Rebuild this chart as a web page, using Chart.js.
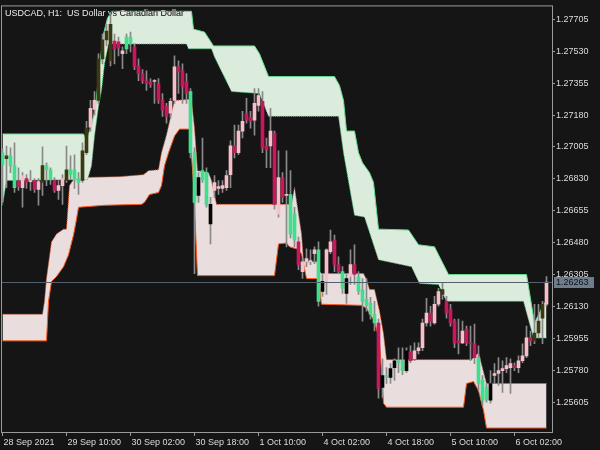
<!DOCTYPE html>
<html>
<head>
<meta charset="utf-8">
<script src="https://cdn.jsdelivr.net/npm/chart.js@4.4.1/dist/chart.umd.min.js"></script>
<style>
  html, body { margin: 0; padding: 0; background: #151515; }
  canvas { display: block; }
</style>
</head>
<body>
<canvas id="chart" width="600" height="450"></canvas>
<script>
const title = 'USDCAD, H1:  US Dollar vs Canadian Dollar'
const xTickLabels = ['28 Sep 2021', '29 Sep 10:00', '30 Sep 02:00', '30 Sep 18:00', '1 Oct 10:00', '4 Oct 02:00', '4 Oct 18:00', '5 Oct 10:00', '6 Oct 02:00']
const yTickLabels = ['1.25605', '1.25780', '1.25955', '1.26130', '1.26305', '1.26480', '1.26655', '1.26830', '1.27005', '1.27180', '1.27355', '1.27530', '1.27705']
const lastPrice = 1.26263

// hourly candles, one entry per bar
const opens = [1.26973, 1.26940, 1.26956, 1.26902, 1.26821, 1.26782, 1.26831, 1.26815, 1.26821, 1.26772,
  1.26810, 1.26902, 1.26880, 1.26821, 1.26766, 1.26793, 1.26821, 1.26880, 1.26880, 1.26831,
  1.26821, 1.26973, 1.27114, 1.27211, 1.27260, 1.27488, 1.27592, 1.27478, 1.27586, 1.27581,
  1.27516, 1.27608, 1.27608, 1.27554, 1.27450, 1.27407, 1.27369, 1.27358, 1.27364, 1.27353,
  1.27260, 1.27228, 1.27190, 1.27260, 1.27445, 1.27423, 1.27364, 1.27309, 1.26973, 1.26739,
  1.26875, 1.26864, 1.26582, 1.26766, 1.26777, 1.26777, 1.26782, 1.26853, 1.27011, 1.26973,
  1.27092, 1.27190, 1.27168, 1.27152, 1.27233, 1.27255, 1.27011, 1.27011, 1.27081, 1.26636,
  1.26837, 1.26739, 1.26744, 1.26636, 1.26484, 1.26321, 1.26375, 1.26375, 1.26419, 1.26440,
  1.26212, 1.26267, 1.26430, 1.26495, 1.26359, 1.26321, 1.26201, 1.26294, 1.26359, 1.26294,
  1.26223, 1.26169, 1.26147, 1.26087, 1.26039, 1.25686, 1.25751, 1.25740, 1.25794, 1.25832,
  1.25832, 1.25778, 1.25881, 1.25843, 1.25887, 1.25903, 1.26039, 1.26093, 1.26039, 1.26142,
  1.26196, 1.26158, 1.26115, 1.26049, 1.25941, 1.25930, 1.26006, 1.25930, 1.25925, 1.25849,
  1.25724, 1.25686, 1.25615, 1.25751, 1.25762, 1.25778, 1.25789, 1.25794, 1.25805, 1.25794,
  1.25832, 1.25859, 1.25957, 1.25941, 1.25984, 1.26066, 1.26142]
const highs = [1.26994, 1.27010, 1.27000, 1.27027, 1.26891, 1.26864, 1.26853, 1.26875, 1.26831, 1.26831,
  1.27005, 1.26918, 1.26891, 1.26837, 1.26821, 1.26853, 1.27010, 1.26956, 1.26962, 1.26864,
  1.27027, 1.27146, 1.27260, 1.27309, 1.27516, 1.27624, 1.27678, 1.27733, 1.27624, 1.27608,
  1.27554, 1.27624, 1.27635, 1.27570, 1.27488, 1.27429, 1.27423, 1.27380, 1.27374, 1.27380,
  1.27298, 1.27244, 1.27271, 1.27505, 1.27478, 1.27461, 1.27407, 1.27325, 1.27000, 1.26864,
  1.27054, 1.26891, 1.26728, 1.26848, 1.26821, 1.26821, 1.26875, 1.27038, 1.27125, 1.27125,
  1.27201, 1.27271, 1.27201, 1.27325, 1.27325, 1.27309, 1.27054, 1.27217, 1.27092, 1.26983,
  1.26864, 1.26983, 1.26875, 1.26674, 1.26511, 1.26397, 1.26446, 1.26440, 1.26457, 1.26484,
  1.26305, 1.26446, 1.26549, 1.26522, 1.26402, 1.26348, 1.26305, 1.26440, 1.26468, 1.26321,
  1.26283, 1.26283, 1.26180, 1.26158, 1.26060, 1.25843, 1.25794, 1.25816, 1.25843, 1.25903,
  1.25903, 1.25903, 1.25914, 1.25930, 1.25930, 1.26060, 1.26174, 1.26131, 1.26185, 1.26229,
  1.26256, 1.26185, 1.26142, 1.26060, 1.26060, 1.26049, 1.26022, 1.26022, 1.26033, 1.25914,
  1.25751, 1.25707, 1.25778, 1.25816, 1.25849, 1.25832, 1.25849, 1.25843, 1.25821, 1.25859,
  1.25925, 1.26022, 1.25995, 1.26142, 1.26142, 1.26158, 1.26294]
const lows = [1.26701, 1.26782, 1.26864, 1.26755, 1.26766, 1.26674, 1.26777, 1.26766, 1.26755, 1.26685,
  1.26739, 1.26793, 1.26799, 1.26755, 1.26717, 1.26690, 1.26810, 1.26826, 1.26777, 1.26744,
  1.26810, 1.26962, 1.27092, 1.27179, 1.27244, 1.27461, 1.27559, 1.27450, 1.27461, 1.27505,
  1.27434, 1.27516, 1.27526, 1.27429, 1.27369, 1.27353, 1.27315, 1.27331, 1.27244, 1.27244,
  1.27173, 1.27135, 1.27163, 1.27244, 1.27298, 1.27244, 1.27244, 1.26945, 1.26310, 1.26701,
  1.26810, 1.26674, 1.26473, 1.26728, 1.26744, 1.26755, 1.26766, 1.26782, 1.26945, 1.26962,
  1.27054, 1.27135, 1.27108, 1.27070, 1.27201, 1.26973, 1.26891, 1.26891, 1.26663, 1.26620,
  1.26701, 1.26457, 1.26506, 1.26457, 1.26332, 1.26283, 1.26348, 1.26359, 1.26364, 1.26131,
  1.26185, 1.26196, 1.26419, 1.26321, 1.26310, 1.26201, 1.26147, 1.26250, 1.26250, 1.26196,
  1.26049, 1.26104, 1.26060, 1.25995, 1.25626, 1.25631, 1.25707, 1.25707, 1.25724, 1.25767,
  1.25756, 1.25767, 1.25821, 1.25832, 1.25870, 1.25887, 1.26022, 1.26022, 1.26033, 1.26131,
  1.26169, 1.26066, 1.26022, 1.25903, 1.25870, 1.25925, 1.25914, 1.25832, 1.25816, 1.25669,
  1.25588, 1.25604, 1.25599, 1.25707, 1.25696, 1.25658, 1.25767, 1.25653, 1.25778, 1.25767,
  1.25821, 1.25849, 1.25914, 1.25925, 1.25957, 1.25925, 1.26131]
const closes = [1.26907, 1.26956, 1.26902, 1.26782, 1.26788, 1.26848, 1.26810, 1.26821, 1.26772, 1.26815,
  1.26902, 1.26880, 1.26826, 1.26766, 1.26793, 1.26831, 1.26880, 1.26853, 1.26826, 1.26810,
  1.26983, 1.27108, 1.27217, 1.27260, 1.27488, 1.27592, 1.27640, 1.27678, 1.27543, 1.27548,
  1.27532, 1.27543, 1.27570, 1.27445, 1.27407, 1.27369, 1.27353, 1.27347, 1.27369, 1.27260,
  1.27206, 1.27173, 1.27255, 1.27445, 1.27418, 1.27336, 1.27298, 1.26973, 1.26701, 1.26837,
  1.26826, 1.26690, 1.26690, 1.26810, 1.26788, 1.26793, 1.26848, 1.27011, 1.26973, 1.27092,
  1.27146, 1.27152, 1.27146, 1.27244, 1.27287, 1.27000, 1.26989, 1.27092, 1.26690, 1.26837,
  1.26728, 1.26744, 1.26527, 1.26495, 1.26359, 1.26375, 1.26392, 1.26381, 1.26440, 1.26158,
  1.26267, 1.26440, 1.26484, 1.26359, 1.26321, 1.26229, 1.26283, 1.26359, 1.26305, 1.26212,
  1.26158, 1.26136, 1.26087, 1.26039, 1.25680, 1.25751, 1.25740, 1.25789, 1.25832, 1.25821,
  1.25778, 1.25887, 1.25832, 1.25887, 1.25903, 1.26039, 1.26093, 1.26049, 1.26142, 1.26212,
  1.26223, 1.26093, 1.26039, 1.25930, 1.25930, 1.25995, 1.25930, 1.25925, 1.25849, 1.25707,
  1.25615, 1.25615, 1.25707, 1.25762, 1.25778, 1.25789, 1.25805, 1.25816, 1.25794, 1.25832,
  1.25859, 1.25957, 1.25941, 1.25984, 1.26049, 1.26142, 1.26263]

// band edges as [bar, price] vertices
const greenUpper = [[0, 1.27076], [20.25, 1.27076], [21, 1.27043], [22.25, 1.27125], [23.25, 1.27222], [24.25, 1.27450],
  [25.25, 1.27624], [26.25, 1.27711], [27.25, 1.27749], [47.25, 1.27749], [47.75, 1.27651], [50.5, 1.27635],
  [52.75, 1.27559], [63, 1.27559], [64.25, 1.27516], [66.5, 1.27391], [83, 1.27391], [84.25, 1.27342],
  [85.25, 1.27260], [86, 1.27092], [88, 1.27092], [89, 1.26973], [90, 1.26918], [91.75, 1.26864],
  [92.75, 1.26810], [94, 1.26554], [101.5, 1.26549], [104, 1.26468], [108, 1.26457], [109, 1.26413],
  [111.5, 1.26305], [131, 1.26305], [133, 1.26039], [135.25, 1.26142], [136, 1.26158]]
const greenLower = [[0, 1.26685], [1, 1.26821], [21.25, 1.26826], [22.25, 1.26902], [23, 1.27065], [24, 1.27228],
  [24.75, 1.27315], [25.5, 1.27461], [26.5, 1.27570], [46, 1.27570], [46.5, 1.27543], [52.25, 1.27543],
  [53, 1.27499], [57.25, 1.27309], [64.25, 1.27298], [64.75, 1.27271], [66.5, 1.27173], [84, 1.27173],
  [85.25, 1.26973], [88, 1.26630], [90.5, 1.26620], [94, 1.26386], [102.25, 1.26348], [104.25, 1.26256],
  [109, 1.26250], [111, 1.26158], [130.25, 1.26158], [132.75, 1.25957], [136, 1.25957]]
const pinkUpper = [[0, 1.26087], [10, 1.26087], [10.5, 1.26158], [11, 1.26283], [12.25, 1.26484], [13.5, 1.26527],
  [15.25, 1.26554], [16, 1.26554], [16.75, 1.26793], [17.75, 1.26826], [19.75, 1.26837], [29.25, 1.26842],
  [35.25, 1.26853], [36.5, 1.26875], [39, 1.26880], [39.75, 1.26973], [41, 1.27070], [42.25, 1.27190],
  [43, 1.27260], [46.75, 1.27266], [47.25, 1.27260], [48, 1.27108], [48.75, 1.26875], [51.5, 1.26864],
  [52.25, 1.26821], [53.5, 1.26690], [72.25, 1.26690], [73, 1.26782], [74.75, 1.26527], [75.25, 1.26375],
  [79, 1.26375], [79.25, 1.26321], [79.75, 1.26310], [90.25, 1.26310], [91, 1.26278], [91.75, 1.26223],
  [93, 1.26223], [94.25, 1.26104], [95.25, 1.25979], [96, 1.25838], [117.25, 1.25838], [119, 1.25876],
  [121, 1.25707], [136, 1.25707]]
const pinkLower = [[0, 1.25941], [11, 1.25941], [11.5, 1.26158], [12.25, 1.26267], [13.5, 1.26294], [15.25, 1.26348],
  [16.5, 1.26413], [17.75, 1.26522], [18.5, 1.26609], [19, 1.26674], [25.5, 1.26685], [34.75, 1.26690],
  [35.5, 1.26701], [36.75, 1.26744], [39, 1.26755], [39.75, 1.26793], [40.5, 1.26902], [41.5, 1.26973],
  [43, 1.27065], [44.25, 1.27103], [46.75, 1.27103], [47.75, 1.26810], [48.75, 1.26299], [68, 1.26299],
  [69, 1.26473], [71, 1.26478], [71.75, 1.26457], [73.5, 1.26446], [74.75, 1.26419], [76, 1.26283],
  [79, 1.26283], [79.75, 1.26142], [89.75, 1.26136], [91, 1.26120], [93, 1.26049], [94.25, 1.25941],
  [95.25, 1.25599], [96, 1.25577], [115.25, 1.25577], [116, 1.25707], [117.75, 1.25718], [119, 1.25669],
  [120.25, 1.25561], [121, 1.25463], [136, 1.25463]]

const toXY = (pts) => pts.map(([x, y]) => ({ x, y }))

// edge value at a bar, only used to pick the candle colour
const edgeAt = (pts, x) => {
  for (let k = 1; k < pts.length; k++) {
    if (x <= pts[k][0]) {
      const [x0, y0] = pts[k - 1]
      const [x1, y1] = pts[k]
      return x1 === x0 ? y1 : y0 + (y1 - y0) * (x - x0) / (x1 - x0)
    }
  }
  return pts[pts.length - 1][1]
}
const inBand = (lo, hi, i, v) => v >= edgeAt(lo, i) && v <= edgeAt(hi, i)

const bodyColor = (i) => {
  const bull = closes[i] >= opens[i]
  const mid = (opens[i] + closes[i]) / 2
  if (inBand(greenLower, greenUpper, i, mid)) return bull ? '#3a3912' : '#3fe08d'
  if (inBand(pinkLower, pinkUpper, i, mid)) return bull ? '#050505' : '#3fe08d'
  return bull ? '#f7bfca' : '#c8175c'
}

const bodies = opens.map((o, i) => ({ x: i, y: [o, closes[i]] }))
const wicks = lows.map((l, i) => ({ x: i, y: [l, highs[i]] }))

const frame = {
  id: 'frame',
  beforeDraw (chart) {
    const { ctx } = chart
    ctx.save()
    ctx.fillStyle = '#151515'
    ctx.fillRect(0, 0, chart.width, chart.height)
    ctx.restore()
  },
  afterDatasetsDraw (chart) {
    const { ctx, chartArea: a, scales } = chart
    const py = Math.round(scales.y.getPixelForValue(lastPrice)) + 0.5
    ctx.save()
    ctx.lineWidth = 1
    ctx.strokeStyle = '#56606c'
    ctx.beginPath()
    ctx.moveTo(a.left, py)
    ctx.lineTo(a.right, py)
    ctx.stroke()
    ctx.strokeStyle = '#9a9a9a'
    ctx.strokeRect(a.left - 0.5, a.top - 0.5, a.right - a.left + 1, a.bottom - a.top + 1)
    ctx.globalCompositeOperation = 'difference'
    ctx.fillStyle = '#ffffff'
    ctx.font = '9px "Liberation Sans"'
    ctx.textBaseline = 'middle'
    ctx.fillText(title, a.left + 3, a.top + 7)
    ctx.restore()
  },
  afterDraw (chart) {
    const { ctx, chartArea: a, scales } = chart
    const py = Math.round(scales.y.getPixelForValue(lastPrice))
    ctx.save()
    ctx.fillStyle = '#6d7d8d'
    ctx.fillRect(a.right + 2, py - 5, 40, 11)
    ctx.fillStyle = '#111111'
    ctx.font = '9px "Liberation Sans"'
    ctx.textBaseline = 'middle'
    ctx.fillText(lastPrice.toFixed(5), a.right + 4, py + 0.5)
    ctx.restore()
  }
}

const edgeLine = (pts, color, dash, fill, bg) => ({
  type: 'line',
  data: toXY(pts),
  borderColor: color,
  borderWidth: 1,
  borderDash: dash,
  pointRadius: 0,
  tension: 0,
  fill: fill,
  backgroundColor: bg,
  order: 3
})

Chart.defaults.font.family = '"Liberation Sans", Arial, sans-serif'
Chart.defaults.font.size = 9
Chart.defaults.color = '#dcdcdc'

new Chart(document.getElementById('chart'), {
  type: 'bar',
  data: {
    datasets: [
      { type: 'bar', data: bodies, backgroundColor: (c) => bodyColor(c.dataIndex), barThickness: 3, grouped: false, minBarLength: 1, order: 1 },
      { type: 'bar', data: wicks, backgroundColor: '#8a8a8a', barThickness: 1, grouped: false, order: 2 },
      edgeLine(greenUpper, '#66dd90', [], false, 'transparent'),
      edgeLine(greenLower, '#4cc47a', [1, 1], 2, '#dcecdc'),
      edgeLine(pinkUpper, '#d86038', [1, 1], false, 'transparent'),
      edgeLine(pinkLower, '#ff5a1f', [], 4, '#eadddd')
    ]
  },
  options: {
    responsive: false,
    animation: false,
    devicePixelRatio: 1,
    layout: { padding: { left: 2, top: 2, right: 0, bottom: 0 } },
    plugins: { legend: { display: false }, tooltip: { enabled: false } },
    scales: {
      x: {
        type: 'linear',
        min: -0.125,
        max: 137.375,
        offset: false,
        border: { display: false },
        grid: { offset: false, drawOnChartArea: false, drawTicks: true, tickLength: 4, color: '#9a9a9a' },
        afterBuildTicks: (s) => { s.ticks = xTickLabels.map((_, k) => ({ value: k * 16 })) },
        afterFit: (s) => { s.height = 18 },
        ticks: { autoSkip: false, maxRotation: 0, align: 'start', padding: 1, labelOffset: 1, callback: (v, i) => xTickLabels[i] }
      },
      y: {
        type: 'linear',
        position: 'right',
        min: 1.25441,
        max: 1.27776,
        border: { display: false },
        grid: { drawOnChartArea: false, drawTicks: true, tickLength: 3, color: '#9a9a9a' },
        afterBuildTicks: (s) => { s.ticks = yTickLabels.map((t) => ({ value: parseFloat(t) })) },
        afterFit: (s) => { s.width = 48 },
        ticks: { autoSkip: false, padding: 1, callback: (v, i) => yTickLabels[i] }
      }
    }
  },
  plugins: [frame]
})
</script>
</body>
</html>
